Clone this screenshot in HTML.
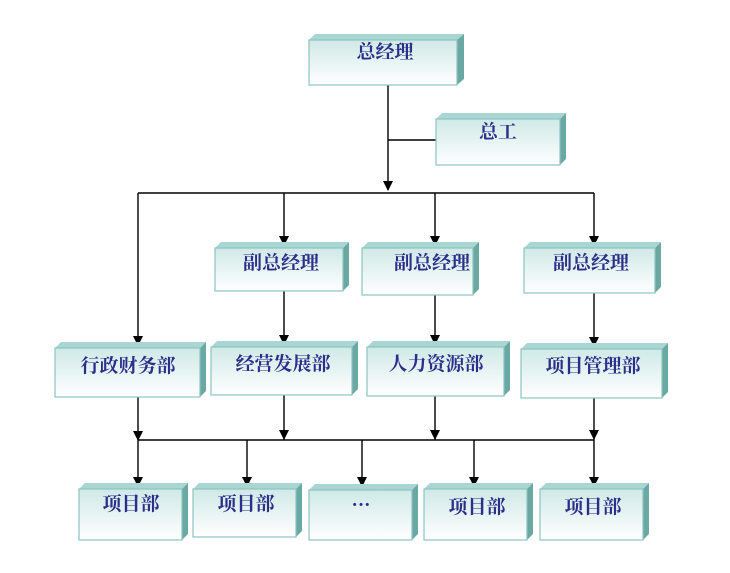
<!DOCTYPE html>
<html><head><meta charset="utf-8"><style>
html,body{margin:0;padding:0;background:#fff;}
svg{display:block}
text{font-family:"Liberation Serif","Noto Serif CJK SC",serif;font-weight:bold;fill:#2b2f8a;font-size:19px;text-anchor:middle}
.f{fill:url(#g);stroke:#8cc4c0;stroke-width:1.2}
.t{fill:#a9d6d2}
.r{fill:#6aa8a4}
.l{stroke:#000;stroke-width:1.4;fill:none}
</style></head><body>
<svg width="730" height="573" viewBox="0 0 730 573" xmlns="http://www.w3.org/2000/svg">
<defs>
<linearGradient id="g" x1="0" y1="0" x2="0" y2="1"><stop offset="0" stop-color="#cfe9e7"/><stop offset="1" stop-color="#ffffff"/></linearGradient>
</defs>
<g class="l">
<line x1="388" y1="85" x2="388" y2="190"/>
<line x1="388" y1="140" x2="436" y2="140"/>
<line x1="138" y1="193" x2="594" y2="193"/>
<line x1="138" y1="193" x2="138" y2="345"/>
<line x1="284" y1="193" x2="284" y2="245"/>
<line x1="435" y1="193" x2="435" y2="245"/>
<line x1="594" y1="193" x2="594" y2="245"/>
<line x1="284" y1="291" x2="284" y2="344"/>
<line x1="435" y1="295" x2="435" y2="344"/>
<line x1="594" y1="293" x2="594" y2="346"/>
<line x1="138" y1="397" x2="138" y2="440"/>
<line x1="284" y1="395" x2="284" y2="440"/>
<line x1="435" y1="396" x2="435" y2="440"/>
<line x1="594" y1="398" x2="594" y2="440"/>
<line x1="138" y1="440" x2="594" y2="440"/>
<line x1="138" y1="440" x2="138" y2="486"/>
<line x1="247" y1="440" x2="247" y2="486"/>
<line x1="362" y1="440" x2="362" y2="486"/>
<line x1="474" y1="440" x2="474" y2="486"/>
<line x1="594" y1="440" x2="594" y2="486"/>
</g>
<g fill="#000">
<path d="M383,181 L393,181 L388,191 Z"/>
<path d="M133,336 L143,336 L138,346 Z"/>
<path d="M279,236 L289,236 L284,246 Z"/>
<path d="M430,236 L440,236 L435,246 Z"/>
<path d="M589,236 L599,236 L594,246 Z"/>
<path d="M279,335 L289,335 L284,345 Z"/>
<path d="M430,335 L440,335 L435,345 Z"/>
<path d="M589,337 L599,337 L594,347 Z"/>
<path d="M133,431 L143,431 L138,441 Z"/>
<path d="M279,430 L289,430 L284,440 Z"/>
<path d="M430,430 L440,430 L435,440 Z"/>
<path d="M589,430 L599,430 L594,440 Z"/>
<path d="M133,477 L143,477 L138,487 Z"/>
<path d="M242,477 L252,477 L247,487 Z"/>
<path d="M357,477 L367,477 L362,487 Z"/>
<path d="M469,477 L479,477 L474,487 Z"/>
<path d="M589,477 L599,477 L594,487 Z"/>
</g>
<g>
<polygon class="t" points="309,40 315,34 464,34 457,40"/><polygon class="r" points="457,40 464,34 464,79 457,85"/><rect class="f" x="309" y="40" width="148" height="45"/><text x="385" y="58">总经理</text>

<polygon class="t" points="436,119 442,113 566,113 560,119"/><polygon class="r" points="560,119 566,113 566,159 560,165"/><rect class="f" x="436" y="119" width="124" height="46"/><text x="498" y="138">总工</text>

<polygon class="t" points="215,248 221,242 349,242 343,248"/><polygon class="r" points="343,248 349,242 349,285 343,291"/><rect class="f" x="215" y="248" width="128" height="43"/><text x="281" y="269">副总经理</text>

<polygon class="t" points="362,248 368,242 479,242 473,248"/><polygon class="r" points="473,248 479,242 479,289 473,295"/><rect class="f" x="362" y="248" width="111" height="47"/><text x="432" y="269">副总经理</text>

<polygon class="t" points="524,248 530,242 661,242 655,248"/><polygon class="r" points="655,248 661,242 661,287 655,293"/><rect class="f" x="524" y="248" width="131" height="45"/><text x="591" y="269">副总经理</text>

<polygon class="t" points="55,348 61,342 206,342 200,348"/><polygon class="r" points="200,348 206,342 206,391 200,397"/><rect class="f" x="55" y="348" width="145" height="49"/><text x="128" y="372">行政财务部</text>

<polygon class="t" points="211,347 217,341 358,341 352,347"/><polygon class="r" points="352,347 358,341 358,389 352,395"/><rect class="f" x="211" y="347" width="141" height="48"/><text x="283" y="370">经营发展部</text>

<polygon class="t" points="367,347 373,341 510,341 504,347"/><polygon class="r" points="504,347 510,341 510,390 504,396"/><rect class="f" x="367" y="347" width="137" height="49"/><text x="436" y="370">人力资源部</text>

<polygon class="t" points="521,349 527,343 668,343 662,349"/><polygon class="r" points="662,349 668,343 668,392 662,398"/><rect class="f" x="521" y="349" width="141" height="49"/><text x="593" y="372">项目管理部</text>

<polygon class="t" points="79,489 85,483 188,483 182,489"/><polygon class="r" points="182,489 188,483 188,534 182,540"/><rect class="f" x="79" y="489" width="103" height="51"/><text x="131" y="510">项目部</text>

<polygon class="t" points="193,489 199,483 302,483 296,489"/><polygon class="r" points="296,489 302,483 302,531 296,537"/><rect class="f" x="193" y="489" width="103" height="48"/><text x="246" y="510">项目部</text>

<polygon class="t" points="309,490 315,484 418,484 412,490"/><polygon class="r" points="412,490 418,484 418,534 412,540"/><rect class="f" x="309" y="490" width="103" height="50"/><text x="361" y="511">···</text>

<polygon class="t" points="424,489 430,483 533,483 527,489"/><polygon class="r" points="527,489 533,483 533,534 527,540"/><rect class="f" x="424" y="489" width="103" height="51"/><text x="477" y="513">项目部</text>

<polygon class="t" points="540,489 546,483 649,483 643,489"/><polygon class="r" points="643,489 649,483 649,534 643,540"/><rect class="f" x="540" y="489" width="103" height="51"/><text x="593" y="513">项目部</text>
</g>
</svg>
</body></html>
